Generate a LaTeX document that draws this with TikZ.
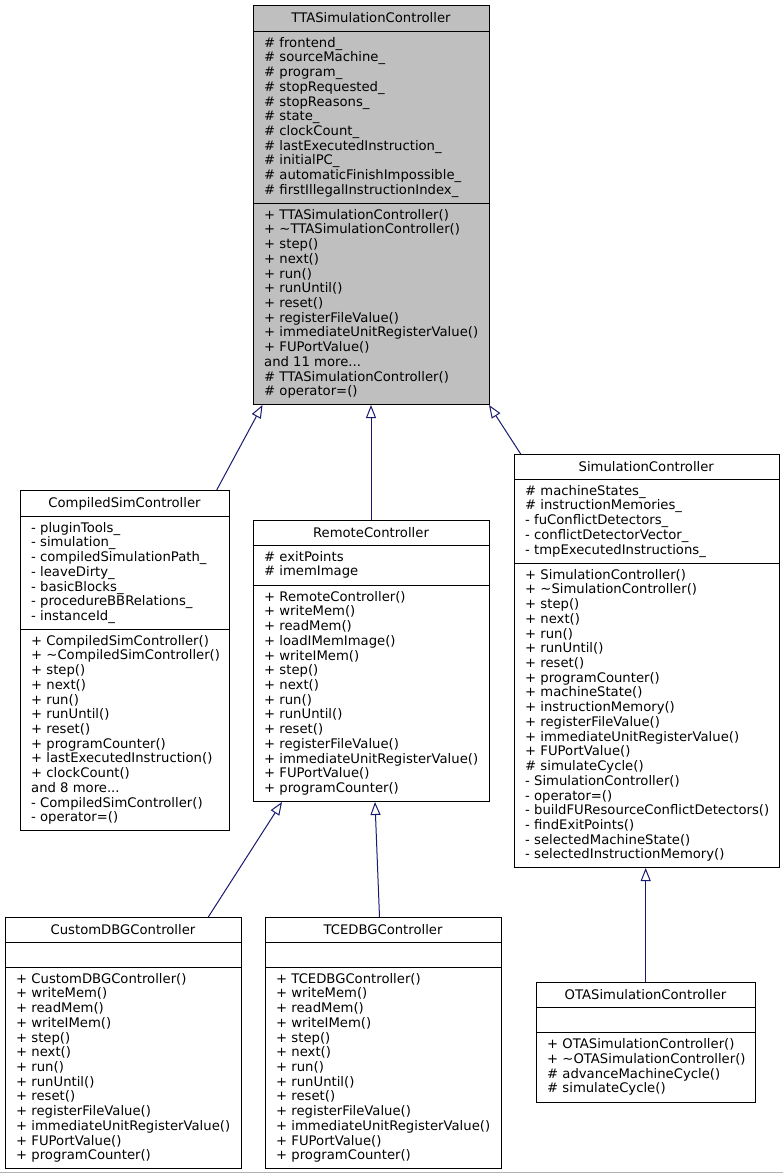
\documentclass[tikz,border=0pt]{standalone}
\usepackage{fontspec}
\newfontfamily\umlfont{DejaVu Sans}
\usetikzlibrary{arrows.meta}
\definecolor{edgeblue}{HTML}{191970}
\definecolor{basegray}{HTML}{BFBFBF}
\newcommand\tdots{...}
\tikzset{
  classbox/.style={draw=black, line width=1pt, inner sep=0pt, anchor=north west},
  divider/.style={draw=black, line width=1pt},
  txt/.style={font=\umlfont\fontsize{13.2}{14.72}\selectfont, inner sep=0pt, text=black},
  inherit/.style={draw=edgeblue, line width=1pt, -{Triangle[length=13pt,width=10pt,fill=white]}},
}
% #1 name, #2 left, #3 top, #4 right, #5 title divider, #6 attr divider, #7 bottom, #8 title, #9 fill
\newcommand\umlclass[9]{%
  \node[classbox, fill=#9, minimum width={(#4-#2)*1pt}, minimum height={(#7-#3)*1pt}] (#1) at (#2,#3) {};
  \draw[divider] (#2,#5) -- (#4,#5);
  \draw[divider] (#2,#6) -- (#4,#6);
  \node[txt, anchor=base] (#1-title) at ({(#2+#4)/2},{(#3+#5)/2+4.6}) {#8};
}
% #1 prefix, #2 left of box, #3 top of compartment, #4 lines
\newcommand\umllines[4]{%
  \foreach \t [count=\i from 0] in {#4} {
    \node[txt, anchor=base west] (#1-\i) at ({#2+11},{#3+16.2+\i*14.72}) {\t};
  }
}
\begin{document}
\begin{tikzpicture}[x=1pt,y=-1pt]
\useasboundingbox (0,0) rectangle (783,1175);
\fill[white] (0,0) rectangle (783,1175);

% TTASimulationController
\umlclass{tta}{253}{5}{489}{31}{203}{404}{TTASimulationController}{basegray}
\umllines{tta-a}{253}{31}{\# frontend\_,\# sourceMachine\_,\# program\_,\# stopRequested\_,\# stopReasons\_,\# state\_,\# clockCount\_,\# lastExecutedInstruction\_,\# initialPC\_,\# automaticFinishImpossible\_,\# firstIllegalInstructionIndex\_}
\umllines{tta-m}{253}{203}{+ TTASimulationController(),+ \textasciitilde TTASimulationController(),+ step(),+ next(),+ run(),+ runUntil(),+ reset(),+ registerFileValue(),+ immediateUnitRegisterValue(),+ FUPortValue(),and 11 more\tdots,\# TTASimulationController(),\# operator=()}

% CompiledSimController
\umlclass{cs}{20}{490}{229}{516}{629}{830}{CompiledSimController}{white}
\umllines{cs-a}{20}{516}{- pluginTools\_,- simulation\_,- compiledSimulationPath\_,- leaveDirty\_,- basicBlocks\_,- procedureBBRelations\_,- instanceId\_}
\umllines{cs-m}{20}{629}{+ CompiledSimController(),+ \textasciitilde CompiledSimController(),+ step(),+ next(),+ run(),+ runUntil(),+ reset(),+ programCounter(),+ lastExecutedInstruction(),+ clockCount(),and 8 more\tdots,- CompiledSimController(),- operator=()}

% RemoteController
\umlclass{rc}{253}{520}{489}{545}{585}{801}{RemoteController}{white}
\umllines{rc-a}{253}{545}{\# exitPoints,\# imemImage}
\umllines{rc-m}{253}{585}{+ RemoteController(),+ writeMem(),+ readMem(),+ loadIMemImage(),+ writeIMem(),+ step(),+ next(),+ run(),+ runUntil(),+ reset(),+ registerFileValue(),+ immediateUnitRegisterValue(),+ FUPortValue(),+ programCounter()}

% SimulationController
\umlclass{sc}{514}{454}{778.5}{479}{563}{867}{SimulationController}{white}
\umllines{sc-a}{514}{479}{\# machineStates\_,\# instructionMemories\_,- fuConflictDetectors\_,- conflictDetectorVector\_,- tmpExecutedInstructions\_}
\umllines{sc-m}{514}{563}{+ SimulationController(),+ \textasciitilde SimulationController(),+ step(),+ next(),+ run(),+ runUntil(),+ reset(),+ programCounter(),+ machineState(),+ instructionMemory(),+ registerFileValue(),+ immediateUnitRegisterValue(),+ FUPortValue(),\# simulateCycle(),- SimulationController(),- operator=(),- buildFUResourceConflictDetectors(),- findExitPoints(),- selectedMachineState(),- selectedInstructionMemory()}

% CustomDBGController
\umlclass{cd}{5}{917}{241}{942}{967}{1168}{CustomDBGController}{white}
\umllines{cd-m}{5}{967}{+ CustomDBGController(),+ writeMem(),+ readMem(),+ writeIMem(),+ step(),+ next(),+ run(),+ runUntil(),+ reset(),+ registerFileValue(),+ immediateUnitRegisterValue(),+ FUPortValue(),+ programCounter()}

% TCEDBGController
\umlclass{tc}{265}{917}{501}{942}{967}{1168}{TCEDBGController}{white}
\umllines{tc-m}{265}{967}{+ TCEDBGController(),+ writeMem(),+ readMem(),+ writeIMem(),+ step(),+ next(),+ run(),+ runUntil(),+ reset(),+ registerFileValue(),+ immediateUnitRegisterValue(),+ FUPortValue(),+ programCounter()}

% OTASimulationController
\umlclass{ota}{536}{982}{755}{1007.5}{1032.5}{1102}{OTASimulationController}{white}
\umllines{ota-m}{536}{1032.5}{+ OTASimulationController(),+ \textasciitilde OTASimulationController(),\# advanceMachineCycle(),\# simulateCycle()}

% inheritance connectors
\draw[inherit] ([xshift=196.7pt]cs.north west) -- ([xshift=9.5pt]tta.south west);
\draw[inherit] ([xshift=118pt]rc.north west) -- ([xshift=118pt]tta.south west);
\draw[inherit] ([xshift=6.7pt]sc.north west) -- ([xshift=236pt]tta.south west);
\draw[inherit] ([xshift=203.3pt]cd.north west) -- ([xshift=29pt]rc.south west);
\draw[inherit] ([xshift=114.5pt]tc.north west) -- ([xshift=122pt]rc.south west);
\draw[inherit] ([xshift=109.7pt]ota.north west) -- ([xshift=131.7pt]sc.south west);

% bottom rule
\draw[gray!60, line width=1pt] (0,1172) -- (783,1172);
\end{tikzpicture}
\end{document}
